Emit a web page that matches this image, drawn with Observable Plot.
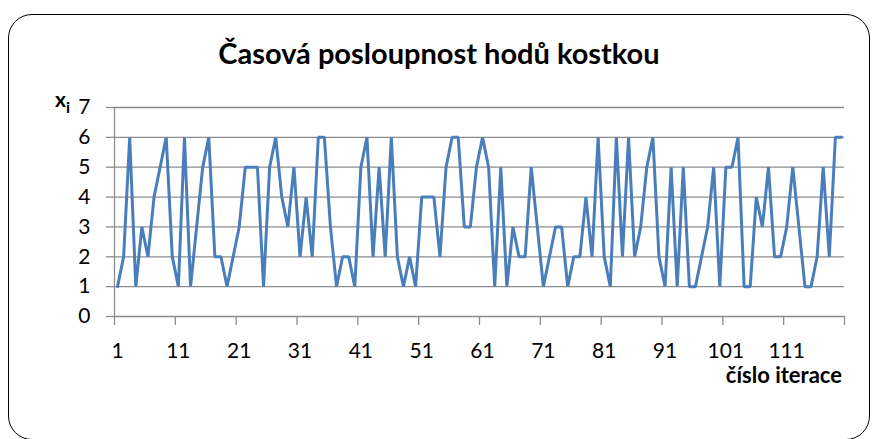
<!DOCTYPE html>
<html>
<head>
<meta charset="utf-8">
<script src="https://cdn.jsdelivr.net/npm/d3@7"></script>
<script src="https://cdn.jsdelivr.net/npm/@observablehq/plot@0.6"></script>
<style>
  body { margin: 0; background: #fff; }
  #wrap { position: relative; width: 878px; height: 439px; overflow: hidden; font-family: Lato, "Open Sans", sans-serif; }
  #wrap svg { position: absolute; left: 0; top: 0; }
  .box { position: absolute; left: 8px; top: 14px; width: 862px; height: 426px; border: 1.5px solid #000; border-radius: 24px; box-sizing: border-box; }
  .title { position: absolute; left: 0; width: 878px; top: 36px; text-align: center; font-weight: bold; font-size: 29px; line-height: 1.2; color: #000; }
  .ylab { position: absolute; left: 55px; top: 86px; font-weight: bold; font-size: 21px; line-height: 1.2; color: #000; }
  .ylab sub { font-size: 16px; vertical-align: -6px; }
  .xlab { position: absolute; right: 36px; top: 362px; font-weight: bold; font-size: 22px; line-height: 1.2; color: #000; }
</style>
</head>
<body>
<div id="wrap">
  <div class="box"></div>
  <div class="title">Časová posloupnost hodů kostkou</div>
  <div class="ylab">x<sub>i</sub></div>
  <div class="xlab">číslo iterace</div>
</div>
<script>
// iteration numbers (categories)
const iterace = d3.range(1, 121);
// dice roll values
const hody = [
  1, 2, 6, 1, 3, 2, 4, 5, 6, 2,
  1, 6, 1, 3, 5, 6, 2, 2, 1, 2,
  3, 5, 5, 5, 1, 5, 6, 4, 3, 5,
  2, 4, 2, 6, 6, 3, 1, 2, 2, 1,
  5, 6, 2, 5, 2, 6, 2, 1, 2, 1,
  4, 4, 4, 2, 5, 6, 6, 3, 3, 5,
  6, 5, 1, 5, 1, 3, 2, 2, 5, 3,
  1, 2, 3, 3, 1, 2, 2, 4, 2, 6,
  2, 1, 6, 2, 6, 2, 3, 5, 6, 2,
  1, 5, 1, 5, 1, 1, 2, 3, 5, 1,
  5, 5, 6, 1, 1, 4, 3, 5, 2, 2,
  3, 5, 3, 1, 1, 2, 5, 2, 6, 6
];
const yTicks = [0, 1, 2, 3, 4, 5, 6, 7];
const xLabelTicks = [1, 11, 21, 31, 41, 51, 61, 71, 81, 91, 101, 111];
const xBoundaryTicks = d3.range(0, 13).map(k => k * 10 + 0.5);

const data = iterace.map((it, k) => ({it, v: hody[k]}));
const grid = "#8c8c8c";

const chart = Plot.plot({
  width: 878,
  height: 439,
  marginLeft: 114,
  marginRight: 34,
  marginTop: 107,
  marginBottom: 123,
  style: {fontFamily: "Lato, 'Open Sans', sans-serif", background: "transparent", color: "#000"},
  x: {type: "linear", domain: [0.5, 120.5]},
  y: {domain: [0, 7]},
  marks: [
    Plot.gridY(yTicks, {stroke: grid, strokeOpacity: 1, strokeWidth: 1.3}),
    Plot.ruleX([0.5], {stroke: grid, strokeWidth: 1.3}),
    Plot.axisY(yTicks, {tickSize: 8, stroke: grid, strokeWidth: 1.3, tickPadding: 16, fontSize: 21, fill: "#000", label: null}),
    Plot.axisX(xBoundaryTicks, {tickSize: 9, stroke: grid, strokeWidth: 1.3, text: null, label: null}),
    Plot.axisX(xLabelTicks, {tickSize: 0, tickPadding: 27, fontSize: 21, fill: "#000", label: null}),
    Plot.line(data, {x: "it", y: "v", stroke: "#4a7ebb", strokeWidth: 3, strokeLinejoin: "miter"})
  ]
});
document.getElementById("wrap").insertBefore(chart, document.querySelector(".title"));
</script>
</body>
</html>
